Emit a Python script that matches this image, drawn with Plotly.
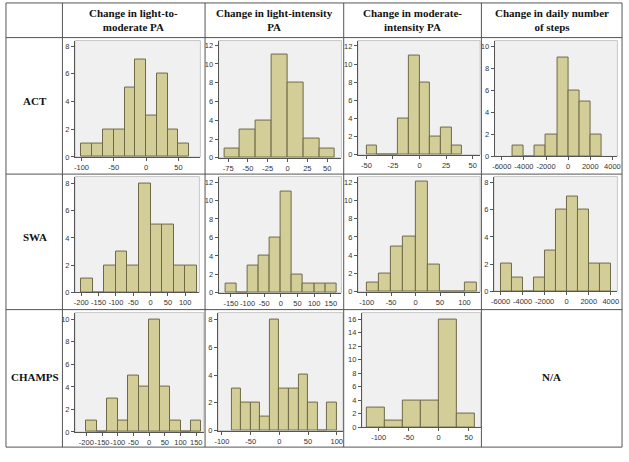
import plotly.graph_objects as go

W, H = 629, 462

# ---- data (histogram bins: first edge, bin width, counts) ----
col_titles = ["Change in light-to-<br>moderate PA", "Change in light-intensity<br>PA",
              "Change in moderate-<br>intensity PA", "Change in daily number<br>of steps"]
row_titles = ["ACT", "SWA", "CHAMPS"]

act_ltm_start, act_ltm_w = -100, 50 / 3
act_ltm_counts = [1, 1, 2, 2, 5, 7, 3, 6, 2, 1]
act_li_start, act_li_w = -80, 20
act_li_counts = [1, 3, 4, 11, 8, 2, 1]
act_mod_start, act_mod_w = -50, 10
act_mod_counts = [1, 0, 0, 4, 11, 8, 2, 3, 1]
act_steps_start, act_steps_w = -5000, 1000
act_steps_counts = [1, 0, 1, 2, 9, 6, 5, 2]

swa_ltm_start, swa_ltm_w = -200, 100 / 3
swa_ltm_counts = [1, 0, 2, 3, 2, 8, 5, 5, 2, 2]
swa_li_start, swa_li_w = -500 / 3, 100 / 3
swa_li_counts = [1, 0, 3, 4, 6, 11, 2, 1, 1, 1]
swa_mod_start, swa_mod_w = -100, 25
swa_mod_counts = [1, 2, 5, 6, 12, 3, 0, 0, 1]
swa_steps_start, swa_steps_w = -6000, 1000
swa_steps_counts = [2, 1, 0, 1, 3, 6, 7, 6, 2, 2]

ch_ltm_start, ch_ltm_w = -200, 100 / 3
ch_ltm_counts = [1, 0, 3, 1, 5, 4, 10, 4, 1, 0, 1]
ch_li_start, ch_li_w = -250 / 3, 50 / 3
ch_li_counts = [3, 2, 2, 1, 8, 3, 3, 4, 2, 0, 2]
ch_mod_start, ch_mod_w = -120, 30
ch_mod_counts = [3, 1, 4, 4, 16, 2]

x_ticks = [
    [-100, -50, 0, 50], [-75, -50, -25, 0, 25, 50], [-50, -25, 0, 25, 50],
    [-6000, -4000, -2000, 0, 2000, 4000],
    [-200, -150, -100, -50, 0, 50, 100], [-150, -100, -50, 0, 50, 100, 150],
    [-100, -50, 0, 50, 100], [-6000, -4000, -2000, 0, 2000, 4000],
    [-200, -150, -100, -50, 0, 50, 100, 150], [-100, -50, 0, 50, 100], [-100, -50, 0, 50],
]
y_ticks = [
    [0, 2, 4, 6, 8], [0, 2, 4, 6, 8, 10, 12], [0, 2, 4, 6, 8, 10, 12], [0, 2, 4, 6, 8, 10],
    [0, 2, 4, 6, 8], [0, 2, 4, 6, 8, 10, 12], [0, 2, 4, 6, 8, 10, 12], [0, 2, 4, 6, 8],
    [0, 2, 4, 6, 8, 10], [0, 2, 4, 6, 8], [0, 2, 4, 6, 8, 10, 12, 14, 16],
]

panels = [
    (act_ltm_start, act_ltm_w, act_ltm_counts),
    (act_li_start, act_li_w, act_li_counts),
    (act_mod_start, act_mod_w, act_mod_counts),
    (act_steps_start, act_steps_w, act_steps_counts),
    (swa_ltm_start, swa_ltm_w, swa_ltm_counts),
    (swa_li_start, swa_li_w, swa_li_counts),
    (swa_mod_start, swa_mod_w, swa_mod_counts),
    (swa_steps_start, swa_steps_w, swa_steps_counts),
    (ch_ltm_start, ch_ltm_w, ch_ltm_counts),
    (ch_li_start, ch_li_w, ch_li_counts),
    (ch_mod_start, ch_mod_w, ch_mod_counts),
]

# ---- layout geometry (pixels) ----
x_ranges = [(-110, 84), (-87, 68), (-58, 57), (-6650, 4450),
            (-218, 141), (-187, 182), (-118, 132), (-6600, 4600),
            (-236, 174), (-107, 111), (-128, 70)]
y_tops = [8.4, 12.5, 12.6, 10.5, 8.5, 12.6, 12.6, 8.45, 10.6, 8.5, 17]
# plot area pixel boxes: left, right, top, bottom
boxes = [
    (72.7, 199.3, 41, 158.7), (217.7, 341.7, 41, 159.5), (358.3, 481.7, 41, 156.5), (496.3, 620.3, 41, 158),
    (72.7, 198.3, 178.5, 295.7), (217.7, 341.7, 178.5, 296), (358.3, 481.7, 178.5, 295), (495.7, 620.3, 178.5, 294.3),
    (72.7, 202.7, 316, 436.7), (217, 343.3, 316, 435.3), (362.3, 482.3, 316, 432),
]

fig = go.Figure()
layout = {}
tick_font = dict(family="Liberation Sans, Arial, sans-serif", size=7.5, color="#333333")
for i, ((start, w, counts), box) in enumerate(zip(panels, boxes)):
    n = i + 1
    sfx = "" if n == 1 else str(n)
    centers = [start + w * (k + 0.5) for k in range(len(counts))]
    fig.add_trace(go.Bar(
        x=centers, y=counts, width=[w] * len(counts),
        marker=dict(color="#d3ce97", line=dict(color="#6e6a48", width=1)),
        xaxis="x" + sfx, yaxis="y" + sfx, showlegend=False, hoverinfo="x+y",
    ))
    l, r, t, b = box
    layout["xaxis" + sfx] = dict(
        domain=[l / W, r / W], anchor="y" + sfx, range=list(x_ranges[i]),
        tickvals=x_ticks[i], ticktext=[str(v) for v in x_ticks[i]], tickangle=0,
        ticks="outside", ticklen=3, tickcolor="#555",
        showgrid=False, zeroline=False, showline=True, linecolor="#555", linewidth=1,
        tickfont=tick_font, fixedrange=True,
    )
    layout["yaxis" + sfx] = dict(
        domain=[1 - b / H, 1 - t / H], anchor="x" + sfx, range=[0, y_tops[i]],
        tickvals=y_ticks[i], ticks="outside", ticklen=3, tickcolor="#555",
        showgrid=False, zeroline=False, showline=True, linecolor="#555", linewidth=1,
        tickfont=tick_font, fixedrange=True,
    )

# background plot area shapes
shapes = []
for (l, r, t, b) in boxes:
    shapes.append(dict(type="rect", xref="paper", yref="paper",
                       x0=l / W, x1=r / W, y0=1 - b / H, y1=1 - t / H,
                       fillcolor="#f0f0f0", line=dict(color="#c8c8c8", width=1), layer="below"))

# table grid lines
xs = [3, 60, 204, 344, 483, 625]
ys = [3, 38, 176, 313, 452]
for x in xs:
    shapes.append(dict(type="line", xref="paper", yref="paper", x0=x / W, x1=x / W,
                       y0=1 - ys[-1] / H, y1=1 - ys[0] / H, line=dict(color="#555555", width=1)))
for y in ys:
    shapes.append(dict(type="line", xref="paper", yref="paper", x0=xs[0] / W, x1=xs[-1] / W,
                       y0=1 - y / H, y1=1 - y / H, line=dict(color="#555555", width=1)))

serif = dict(family="Liberation Serif, Times New Roman, serif", size=11, color="#111111")
annotations = []
for j, title in enumerate(col_titles):
    cx = (xs[j + 1] + xs[j + 2]) / 2
    annotations.append(dict(text="<b>" + title + "</b>", x=cx / W, y=1 - 20 / H, xref="paper", yref="paper",
                            showarrow=False, font=serif, xanchor="center", yanchor="middle"))
row_centers = [102, 240, 381]
for name, cy in zip(row_titles, row_centers):
    annotations.append(dict(text="<b>" + name + "</b>", x=32 / W, y=1 - cy / H, xref="paper", yref="paper",
                            showarrow=False, font=serif, xanchor="center", yanchor="middle"))
annotations.append(dict(text="<b>N/A</b>", x=554 / W, y=1 - 381 / H, xref="paper", yref="paper",
                        showarrow=False, font=serif, xanchor="center", yanchor="middle"))

fig.update_layout(
    width=W, height=H, margin=dict(l=0, r=0, t=0, b=0),
    paper_bgcolor="white", plot_bgcolor="rgba(0,0,0,0)",
    shapes=shapes, annotations=annotations, bargap=0, **layout,
)
fig.write_html("out.html", config={"displayModeBar": False},
               post_script="document.body.style.margin='0';document.body.style.overflow='hidden';")
